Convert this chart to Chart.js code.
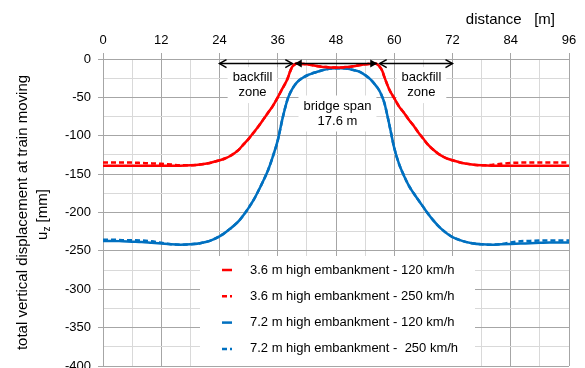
<!DOCTYPE html>
<html>
<head>
<meta charset="utf-8">
<script src="https://cdn.jsdelivr.net/npm/chart.js@4.4.1/dist/chart.umd.min.js"></script>
<style>
  html, body { margin: 0; padding: 0; background: #fff; overflow: hidden; }
  #contenedor { width: 585px; height: 368px; position: relative; }
</style>
</head>
<body>
<div id="contenedor"><canvas id="grafica"></canvas></div>
<script>
// ---------- DATOS ----------
const distance = [0, 2, 4, 6, 8, 10, 12, 14, 16, 18, 20, 22,
  24, 25, 26, 27, 28, 29, 30, 31, 32, 33, 34, 35, 36, 37, 38, 38.5, 39, 39.5,
  40, 41, 42, 43, 44, 45, 46, 47, 48, 49, 50, 51, 52, 53, 54, 55, 56,
  56.5, 57, 57.5, 58, 59, 60, 61, 62, 63, 64, 65, 66, 67, 68, 69, 70, 71, 72,
  74, 76, 78, 80, 82, 84, 86, 88, 90, 92, 94, 96];

// 3.6 m - 120 km/h
const uz36_120 = [-139, -139, -139, -139, -139, -139, -139, -139, -139, -138.5, -137.5, -135.5,
  -132, -130, -127, -123, -118, -111, -104, -96, -88, -79, -70, -61, -50, -38, -26, -17, -10, -7,
  -6, -6.5, -7, -8, -9, -10, -10.5, -11, -11, -11, -10.5, -10, -9, -8, -7, -6.5, -6,
  -7, -10, -15, -24, -40, -51, -62, -70, -79, -87, -96, -104, -112, -118, -123, -127, -130, -132,
  -135.5, -137.5, -138.5, -139, -139, -139, -139, -139, -139, -139, -139, -139];

// 3.6 m - 250 km/h
const uz36_250 = [-135, -135, -135, -135, -135.5, -136, -136.5, -137.5, -138.5, -138.5, -137.5, -135.5,
  -132, -130, -127, -123, -118, -111, -104, -96, -88, -79, -70, -61, -50, -38, -26, -17, -10, -7,
  -6, -6.5, -7, -8, -9, -10, -10.5, -11, -11, -11, -10.5, -10, -9, -8, -7, -6.5, -6,
  -7, -10, -15, -24, -40, -51, -62, -70, -79, -87, -96, -104, -112, -118, -123, -127, -130, -132,
  -135.5, -137.5, -138.5, -138, -136.5, -135.5, -135, -135, -135, -135, -135, -135];

// 7.2 m - 120 km/h
const uz72_120 = [-237, -237, -237.5, -238, -238.5, -239.5, -240.5, -241.5, -242, -241.5, -240, -237,
  -231, -227, -222, -217, -211, -203, -194, -184, -172, -159, -145, -127, -106, -77, -53, -45, -39, -34,
  -30, -25, -21.5, -19, -17, -15, -13.5, -12.5, -12, -12, -12.5, -13.5, -15, -17, -21, -26, -33,
  -37, -42, -49, -58, -86, -116, -137, -152, -165, -175, -184, -193, -202, -210, -217, -223, -228, -232,
  -237, -240, -241.5, -242, -241.5, -241, -240.5, -240, -239.5, -239, -239, -239];

// 7.2 m - 250 km/h
const uz72_250 = [-235.5, -235.5, -236, -236, -236.5, -237.5, -239.5, -241.5, -242, -241.5, -240, -237,
  -231, -227, -222, -217, -211, -203, -194, -184, -172, -159, -145, -127, -106, -77, -53, -45, -39, -34,
  -30, -25, -21.5, -19, -17, -15, -13.5, -12.5, -12, -12, -12.5, -13.5, -15, -17, -21, -26, -33,
  -37, -42, -49, -58, -86, -116, -137, -152, -165, -175, -184, -193, -202, -210, -217, -223, -228, -232,
  -237, -240, -241.5, -242, -241, -239, -237.5, -237, -236.5, -236.5, -236.5, -236.5];

const etiquetas = ['3.6 m high embankment - 120 km/h', '3.6 m high embankment - 250 km/h',
  '7.2 m high embankment - 120 km/h', '7.2 m high embankment -  250 km/h'];

const ROJO = '#ff0000';
const AZUL = '#0070c0';
const FUENTE = "'Liberation Sans', Arial, sans-serif";
const MAYOR = '#a6a6a6';
const MENOR = '#d9d9d9';

function puntos(valores) {
  return distance.map((d, i) => ({ x: d, y: valores[i] }));
}

// caja de texto blanca centrada
function caja(ctx, cx, cy, lineas) {
  ctx.font = '13px ' + FUENTE;
  const alto = 15;
  let ancho = 0;
  lineas.forEach(l => { ancho = Math.max(ancho, ctx.measureText(l).width); });
  const h = alto * lineas.length;
  ctx.fillStyle = '#fff';
  ctx.fillRect(cx - ancho / 2 - 5, cy - h / 2 - 3, ancho + 10, h + 6);
  ctx.fillStyle = '#000';
  ctx.textAlign = 'center';
  ctx.textBaseline = 'middle';
  lineas.forEach((l, i) => ctx.fillText(l, cx, cy - h / 2 + alto * (i + 0.5)));
}

function flecha(ctx, x1, x2, yy, rellena) {
  ctx.strokeStyle = '#000';
  ctx.fillStyle = '#000';
  ctx.lineWidth = 1.5;
  ctx.beginPath();
  ctx.moveTo(x1, yy);
  ctx.lineTo(x2, yy);
  ctx.stroke();
  [[x1, 1], [x2, -1]].forEach(([px, s]) => {
    ctx.beginPath();
    ctx.moveTo(px + s * 7, yy - 4);
    ctx.lineTo(px, yy);
    ctx.lineTo(px + s * 7, yy + 4);
    if (rellena) { ctx.closePath(); ctx.fill(); } else { ctx.stroke(); }
  });
}

const anotaciones = {
  id: 'anotaciones',
  beforeDatasetsDraw(chart) {
    const { ctx, chartArea, scales: { x, y } } = chart;
    ctx.save();
    caja(ctx, x.getPixelForValue(30.8), y.getPixelForValue(-34), ['backfill', 'zone']);
    caja(ctx, x.getPixelForValue(65.6), y.getPixelForValue(-34), ['backfill', 'zone']);
    caja(ctx, x.getPixelForValue(48.3), y.getPixelForValue(-71), ['bridge span', '17.6 m']);

    // leyenda
    const lx = chartArea.left + 97, ly = chartArea.top + 197;
    ctx.fillStyle = '#fff';
    ctx.fillRect(lx, ly, 275, chartArea.bottom - ly);
    const colores = [ROJO, ROJO, AZUL, AZUL];
    etiquetas.forEach((t, i) => {
      const fy = ly + 14 + i * 26.3;
      ctx.strokeStyle = colores[i];
      ctx.lineWidth = 2.5;
      ctx.setLineDash(i % 2 ? [5, 3] : []);
      ctx.beginPath();
      ctx.moveTo(lx + 22, fy);
      ctx.lineTo(lx + 32, fy);
      ctx.stroke();
      ctx.setLineDash([]);
      ctx.fillStyle = '#000';
      ctx.font = '13px ' + FUENTE;
      ctx.textAlign = 'left';
      ctx.textBaseline = 'middle';
      ctx.fillText(t, lx + 50, fy);
    });
    ctx.restore();
  },
  afterDatasetsDraw(chart) {
    const { ctx, scales: { x, y } } = chart;
    ctx.save();
    const yy = y.getPixelForValue(-6);
    flecha(ctx, x.getPixelForValue(24), x.getPixelForValue(39), yy, false);
    flecha(ctx, x.getPixelForValue(39.5), x.getPixelForValue(56.5), yy, true);
    flecha(ctx, x.getPixelForValue(57), x.getPixelForValue(72), yy, false);
    ctx.restore();
  },
  afterDraw(chart) {
    const { ctx, chartArea } = chart;
    const cy = (chartArea.top + chartArea.bottom) / 2;
    ctx.save();
    ctx.fillStyle = '#000';
    ctx.textBaseline = 'middle';
    // titulo eje y
    ctx.translate(23, cy);
    ctx.rotate(-Math.PI / 2);
    ctx.font = '15px ' + FUENTE;
    ctx.textAlign = 'center';
    ctx.fillText('total vertical displacement at train moving', 0, 0);
    ctx.restore();

    ctx.save();
    ctx.fillStyle = '#000';
    ctx.textBaseline = 'middle';
    ctx.translate(43, cy + 2);
    ctx.rotate(-Math.PI / 2);
    ctx.font = '15px ' + FUENTE;
    const wu = ctx.measureText('u').width;
    const wr = ctx.measureText(' [mm]').width;
    ctx.font = '10px ' + FUENTE;
    const wz = ctx.measureText('z').width;
    let px = -(wu + wz + wr) / 2;
    ctx.textAlign = 'left';
    ctx.font = '15px ' + FUENTE;
    ctx.fillText('u', px, 0);
    px += wu;
    ctx.font = '10px ' + FUENTE;
    ctx.fillText('z', px, 4);
    px += wz;
    ctx.font = '15px ' + FUENTE;
    ctx.fillText(' [mm]', px, 0);
    ctx.restore();

    // titulo eje x
    ctx.save();
    ctx.fillStyle = '#000';
    ctx.font = '15px ' + FUENTE;
    ctx.textAlign = 'right';
    ctx.textBaseline = 'middle';
    ctx.fillText('distance   [m]', 555, 20);
    ctx.restore();
  }
};

const serie = (label, datos, color, dash) => ({
  label: label,
  data: puntos(datos),
  borderColor: color,
  backgroundColor: color,
  borderWidth: 2.5,
  borderDash: dash,
  pointRadius: 0,
  cubicInterpolationMode: 'monotone',
  fill: false
});

new Chart(document.getElementById('grafica'), {
  type: 'line',
  data: {
    datasets: [
      serie(etiquetas[0], uz36_120, ROJO, []),
      serie(etiquetas[1], uz36_250, ROJO, [5, 3]),
      serie(etiquetas[2], uz72_120, AZUL, []),
      serie(etiquetas[3], uz72_250, AZUL, [5, 3])
    ]
  },
  options: {
    responsive: true,
    maintainAspectRatio: false,
    animation: false,
    layout: { padding: { top: 0, right: 16, bottom: 2, left: 0 } },
    plugins: {
      legend: { display: false },
      tooltip: { enabled: false }
    },
    scales: {
      x: {
        type: 'linear',
        position: 'top',
        min: 0,
        max: 96,
        afterFit: s => { s.height = 59; s.paddingLeft = 0; s.paddingRight = 0; },
        ticks: {
          stepSize: 6,
          autoSkip: false,
          maxRotation: 0,
          padding: 5,
          color: '#000',
          font: { family: FUENTE, size: 13 },
          callback: v => (v % 12 === 0 ? String(v) : '')
        },
        grid: {
          color: c => (c.tick && c.tick.value % 12 === 0 ? MAYOR : MENOR),
          tickColor: c => (c.tick && c.tick.value % 12 === 0 ? MAYOR : 'rgba(0,0,0,0)'),
          tickLength: 6
        },
        border: { color: MAYOR }
      },
      y: {
        min: -400,
        max: 0,
        afterFit: s => { s.width = 103; s.paddingTop = 0; s.paddingBottom = 0; },
        ticks: {
          stepSize: 25,
          autoSkip: false,
          padding: 7,
          color: '#000',
          font: { family: FUENTE, size: 13 },
          callback: v => (v % 50 === 0 ? String(v) : '')
        },
        grid: {
          color: c => (c.tick && c.tick.value % 50 === 0 ? MAYOR : MENOR),
          tickColor: c => (c.tick && c.tick.value % 50 === 0 ? MAYOR : 'rgba(0,0,0,0)'),
          tickLength: 5
        },
        border: { color: MAYOR }
      }
    }
  },
  plugins: [anotaciones]
});
</script>
</body>
</html>
